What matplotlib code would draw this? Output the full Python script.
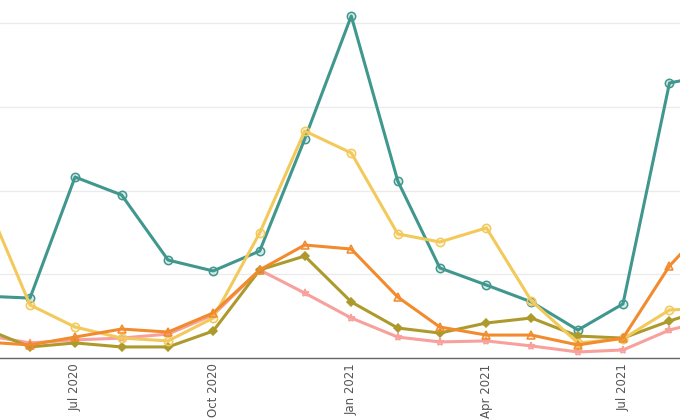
import matplotlib
matplotlib.use('Agg')
import matplotlib.pyplot as plt
import matplotlib.dates as mdates
import numpy as np
import pandas as pd

# Monthly points, May 2020 .. Sep 2021 (chart is zoomed in, edges cut off)
months = pd.date_range('2020-05-01', '2021-09-01', freq='MS')

teal = [37.0, 35.8, 108.1, 97.4, 58.5, 52.0, 63.9, 130.8, 204.3, 105.7,
        53.8, 43.6, 33.5, 16.7, 32.3, 164.3, 169.7]
yellow = [97.4, 31.7, 18.5, 11.9, 10.2, 23.9, 74.7, 135.6, 122.5, 74.1,
          69.3, 77.7, 34.1, 9.0, 11.4, 28.7, 29.9]
orange = [9.6, 7.8, 12.5, 17.3, 15.5, 26.9, 52.6, 67.5, 65.1, 36.4,
          18.5, 13.7, 13.7, 7.8, 11.9, 55.0, 84.8]
pink = [13.7, 9.0, 10.8, 11.9, 14.3, 25.7, 52.6, 38.8, 23.9, 12.5,
        9.6, 10.2, 7.2, 3.6, 4.8, 16.7, 23.9]
olive = [17.9, 6.6, 9.0, 6.6, 6.6, 16.1, 52.6, 60.9, 33.5, 17.9,
         14.9, 20.9, 23.9, 13.1, 11.9, 22.1, 31.1]

series = [
    (teal, '#40978d', 'o'),
    (pink, '#f7a09c', '*'),
    (olive, '#ad9a2d', 'D'),
    (yellow, '#f2c95a', 'o'),
    (orange, '#f18b2d', '^'),
]

fig = plt.figure(figsize=(6.8, 4.2), dpi=100)
ax = fig.add_axes([0, 62 / 420, 1, 358 / 420])

for vals, col, mk in series:
    fill = matplotlib.colors.to_rgba(col, 0.2)
    ax.plot(months, vals, color=col, linewidth=2.2, marker=mk,
            markersize=6 if mk != 'D' else 4.5, markerfacecolor=col if mk == 'D' else fill,
            markeredgecolor=col, markeredgewidth=1.1)

ax.set_xlim(pd.Timestamp('2020-05-12'), pd.Timestamp('2021-08-08'))
ax.set_ylim(0, 358 / 83.7 * 50)

ax.xaxis.set_major_locator(mdates.MonthLocator(bymonth=[1, 4, 7, 10]))
ax.xaxis.set_major_formatter(mdates.DateFormatter('%b %Y'))
ax.set_yticks([0, 50, 100, 150, 200])
ax.tick_params(axis='x', length=0, pad=4, labelsize=8.5, labelcolor='#555555', labelrotation=90)
ax.tick_params(axis='y', length=0, labelleft=False)
ax.grid(axis='y', color='#ebebeb', linewidth=1)
ax.set_axisbelow(True)

for s in ['top', 'right', 'left']:
    ax.spines[s].set_visible(False)
ax.spines['bottom'].set_color('#666666')
ax.spines['bottom'].set_linewidth(1)

fig.savefig('out.png', dpi=100)
